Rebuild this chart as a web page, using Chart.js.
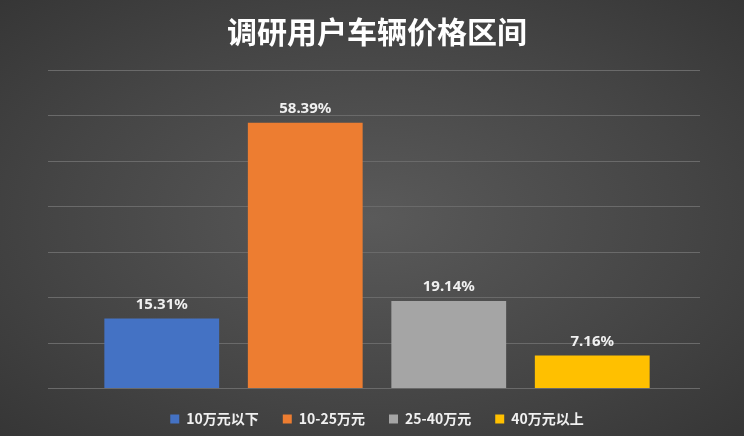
<!DOCTYPE html>
<html><head><meta charset="utf-8">
<script src="https://cdn.jsdelivr.net/npm/chart.js@4"></script>
<style>html,body{margin:0;padding:0;}
body{width:744px;height:436px;background:radial-gradient(ellipse at 50% 50%,#5a5a5a 0%,#454545 60%,#363636 100%);}
#w{width:744px;height:436px;position:relative}</style></head>
<body><div id="w"><canvas id="c"></canvas></div>
<script>
const categories=['10万元以下','10-25万元','25-40万元','40万元以上'];
const values=[15.31,58.39,19.14,7.16];
const colors=['#4472C4','#ED7D31','#A5A5A5','#FFC000'];
const yTicks=[0,10,20,30,40,50,60,70];

const datasets=categories.map((c,i)=>({label:c,data:values.map((v,j)=>j===i?v:null),
  backgroundColor:colors[i],borderWidth:0,barPercentage:0.8,categoryPercentage:1,skipNull:true}));

const grid={id:'grid',beforeDatasetsDraw(ch){const ctx=ch.ctx,y=ch.scales.y;ctx.save();ctx.strokeStyle='#6a6a6a';ctx.lineWidth=1;
  yTicks.forEach(t=>{const p=Math.round(y.getPixelForValue(t))+0.5;ctx.beginPath();ctx.moveTo(48,p);ctx.lineTo(700,p);ctx.stroke();});ctx.restore();}};
const labels={id:'labels',afterDatasetsDraw(ch){const ctx=ch.ctx;ctx.save();ctx.fillStyle='#f0f0f0';ctx.font='bold 15px "Noto Sans","DejaVu Sans"';ctx.textAlign='center';
  ch.data.datasets.forEach((d,i)=>{const m=ch.getDatasetMeta(i).data[i];ctx.fillText(values[i].toFixed(2)+'%',m.x,m.y-14);});ctx.restore();}};

new Chart(document.getElementById('c'),{type:'bar',data:{labels:categories,datasets},
 options:{responsive:true,maintainAspectRatio:false,animation:false,
  layout:{padding:{left:90,right:80,top:0,bottom:0}},
  scales:{x:{display:false},y:{display:false,min:0,max:70}},
  plugins:{title:{display:true,text:'调研用户车辆价格区间',color:'#ffffff',font:{size:30,weight:'bold',family:'"Noto Sans CJK SC"'},padding:{top:14,bottom:20}},
   legend:{position:'bottom',labels:{color:'#f0f0f0',boxWidth:9,boxHeight:9,padding:24,font:{size:14,weight:'bold',family:'"Noto Sans CJK SC"'}}},
   tooltip:{enabled:false}}},
 plugins:[grid,labels]});
</script></body></html>
